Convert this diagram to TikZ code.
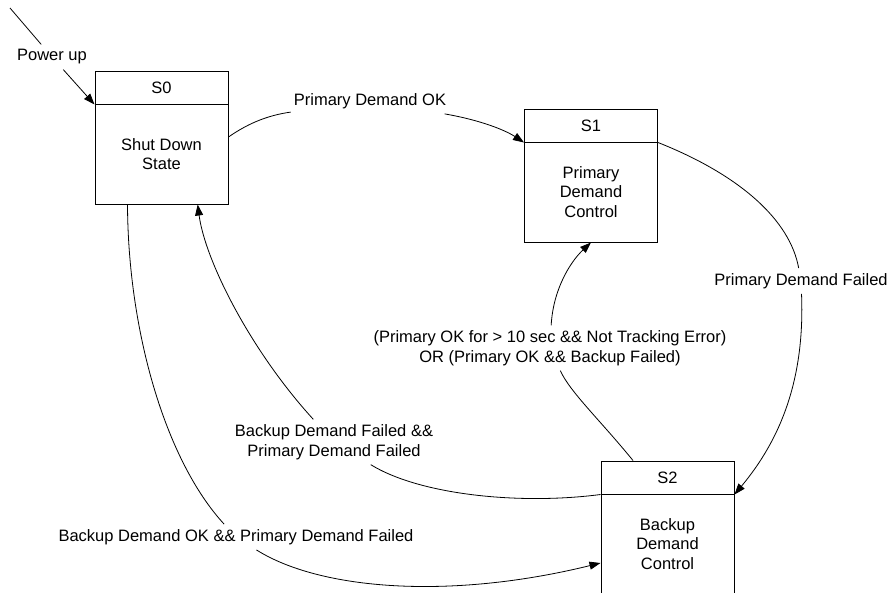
\documentclass[tikz,border=0pt]{standalone}
\usepackage{fontspec}
\setmainfont{Liberation Sans}
\usetikzlibrary{arrows.meta,calc}
\begin{document}
\begin{tikzpicture}[x=1pt,y=-1pt,
  every node/.style={font=\fontsize{16.5}{19.5}\selectfont},
  hdr/.style={draw, line width=1pt, minimum width=133pt, minimum height=33pt, inner sep=0pt},
  body/.style={draw, line width=1pt, minimum width=133pt, minimum height=100pt, inner sep=0pt, align=center},
  lbl/.style={align=center, inner xsep=3pt, inner ysep=5pt},
  conn/.style={line width=0.8pt},
  arr/.style={conn, -{Triangle[length=11pt,width=8pt]}}
]
\useasboundingbox (0,0) rectangle (891,592);

% states
\node[hdr]  (s0h) at (161.5,87.5) {S0};
\node[body] (s0b) at (161.5,154) {Shut Down\\State};
\node[hdr]  (s1h) at (591,125.5) {S1};
\node[body] (s1b) at (591,192) {Primary\\Demand\\Control};
\node[hdr]  (s2h) at (667.5,477.5) {S2};
\node[body] (s2b) at (667.5,544) {Backup\\Demand\\Control};

% labels
\node[lbl] (pwr) at (52,57) {Power up};
\node[lbl] (l1) at (370,101) {Primary Demand OK};
\node[lbl] (l2) at (801,281) {Primary Demand Failed};
\node[lbl] (l3) at (550,348) {(Primary OK for > 10 sec \&\& Not Tracking Error)\\OR (Primary OK \&\& Backup Failed)};
\node[lbl] (l4) at (334,442) {Backup Demand Failed \&\&\\Primary Demand Failed};
\node[lbl] (l5) at (236,537) {Backup Demand OK \&\& Primary Demand Failed};

% power up
\coordinate (pstart) at (10,8);
\draw[conn] (pstart) -- (pwr);
\draw[arr] (pwr) -- (s0h.south west);

% S0 -> S1
\draw[conn] ([yshift=17pt]s0b.east) .. controls (250,122) and (270,115) .. (l1);
\draw[arr] (l1) .. controls (480,120) and (505,130) .. (s1h.south west);

% S1 -> S2
\draw[conn] (s1h.south east) .. controls (740,175) and (790,220) .. (l2);
\draw[arr] (l2) .. controls (805,380) and (780,440) .. (s2h.south east);

% S2 -> S1
\draw[conn] ([xshift=-34.5pt]s2h.north) .. controls (600,420) and (570,392) .. (l3);
\draw[arr] (l3) .. controls (553,290) and (570,262) .. (s1b.south);

% S2 -> S0
\draw[conn] (s2h.south west) .. controls (520,505) and (420,495) .. (l4);
\draw[arr] (l4) .. controls (250,350) and (205,260) .. ($(s0b.south west)!0.77!(s0b.south east)$);

% S0 -> S2
\draw[conn] ([xshift=33pt]s0b.south west) .. controls (128,330) and (165,460) .. (l5);
\draw[arr] (l5) .. controls (320,590) and (450,600) .. ([yshift=-19pt]s2b.west);
\end{tikzpicture}
\end{document}
